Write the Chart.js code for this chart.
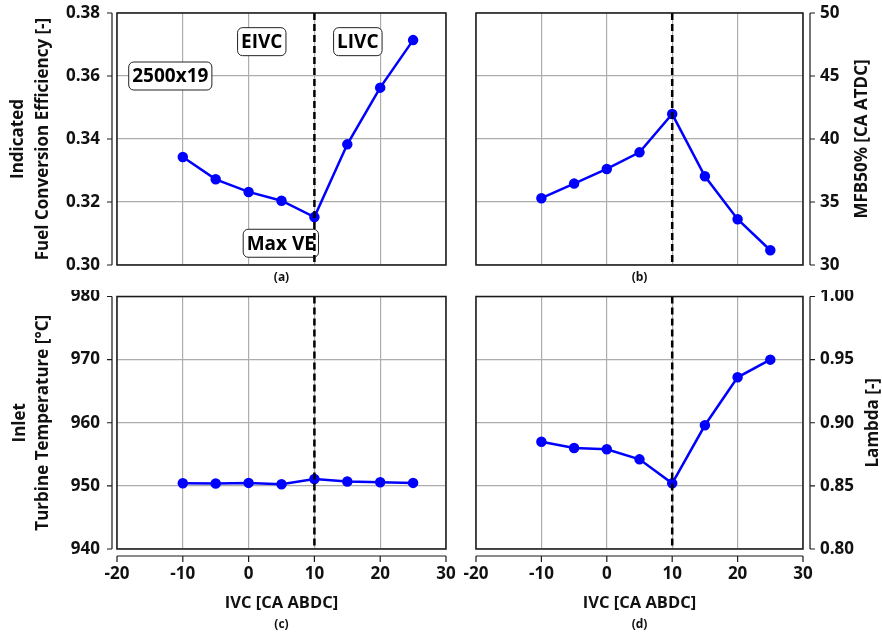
<!DOCTYPE html>
<html>
<head>
<meta charset="utf-8">
<script src="https://cdn.jsdelivr.net/npm/chart.js@4.4.1/dist/chart.umd.min.js"></script>
<style>
  body { margin: 0; background: #fff; }
  #fig { position: relative; width: 882px; height: 634px; }
  canvas { position: absolute; }
</style>
</head>
<body>
<div id="fig">
  <canvas id="pa" width="461" height="290" style="left:0;top:0"></canvas>
  <canvas id="pb" width="421" height="290" style="left:461px;top:0"></canvas>
  <canvas id="pc" width="461" height="344" style="left:0;top:290px"></canvas>
  <canvas id="pd" width="421" height="344" style="left:461px;top:290px"></canvas>
</div>
<script>
// IVC sweep at 2500 rpm x 19 bar
const ivc = [-10, -5, 0, 5, 10, 15, 20, 25];
const efficiency = [0.3343, 0.3272, 0.3232, 0.3204, 0.3152, 0.3383, 0.3563, 0.3714];
const mfb50 = [35.30, 36.46, 37.62, 38.94, 41.98, 37.04, 33.63, 31.17];
const turbineTemp = [950.42, 950.37, 950.47, 950.26, 951.10, 950.69, 950.58, 950.47];
const lambda = [0.885, 0.880, 0.879, 0.871, 0.852, 0.898, 0.936, 0.950];
const maxVeIvc = 10;

// text boxes on panel (a)
const noteText = ['EIVC', 'LIVC', '2500x19', 'Max VE'];
const noteIvc = [2.0, 16.6, -11.9, 4.9];
const noteEff = [0.3709, 0.3709, 0.3600, 0.3069];

const FONT = '"Open Sans", "DejaVu Sans", sans-serif';
const INK = '#111';

function roundBox(ctx, x, y, w, h, r) {
  ctx.beginPath();
  ctx.moveTo(x + r, y);
  ctx.arcTo(x + w, y, x + w, y + h, r);
  ctx.arcTo(x + w, y + h, x, y + h, r);
  ctx.arcTo(x, y + h, x, y, r);
  ctx.arcTo(x, y, x + w, y, r);
  ctx.closePath();
}

// frame, detached axes, dashed Max VE line, titles and notes
const figureParts = {
  id: 'figureParts',
  afterDatasetsDraw(chart, args, o) {
    const ctx = chart.ctx;
    const a = chart.chartArea;
    const xs = chart.scales.x, ys = chart.scales.y;
    ctx.save();

    // notes
    if (o.notes) {
      ctx.font = 'bold 19px ' + FONT;
      ctx.textAlign = 'center';
      ctx.textBaseline = 'middle';
      o.notes.text.forEach((t, i) => {
        const cx = xs.getPixelForValue(o.notes.x[i]);
        const cy = ys.getPixelForValue(o.notes.y[i]);
        const w = ctx.measureText(t).width + 7;
        const h = 28;
        roundBox(ctx, cx - w / 2, cy - h / 2, w, h, 5);
        ctx.fillStyle = '#fff';
        ctx.fill();
        ctx.lineWidth = 1;
        ctx.strokeStyle = '#222';
        ctx.stroke();
        ctx.fillStyle = '#000';
        ctx.fillText(t, cx, cy + 1);
      });
    }

    // Max VE marker
    const xv = xs.getPixelForValue(maxVeIvc);
    ctx.setLineDash([7, 4]);
    ctx.lineWidth = 2.5;
    ctx.strokeStyle = '#000';
    ctx.beginPath();
    ctx.moveTo(xv, a.top);
    ctx.lineTo(xv, a.bottom);
    ctx.stroke();
    ctx.setLineDash([]);

    // plot frame
    ctx.lineWidth = 1.5;
    ctx.strokeStyle = '#1a1a1a';
    ctx.strokeRect(a.left, a.top, a.right - a.left, a.bottom - a.top);

    // y axis line, set off from the frame
    ctx.lineWidth = 1.2;
    ctx.beginPath();
    if (o.ySide === 'left') {
      const ax = a.left - 5;
      ctx.moveTo(ax, a.top); ctx.lineTo(ax, a.bottom);
      ys.ticks.forEach(t => {
        const py = ys.getPixelForValue(t.value);
        ctx.moveTo(ax, py); ctx.lineTo(ax - 5, py);
      });
    } else {
      const ax = a.right + 7;
      ctx.moveTo(ax, a.top); ctx.lineTo(ax, a.bottom);
      ys.ticks.forEach(t => {
        const py = ys.getPixelForValue(t.value);
        ctx.moveTo(ax, py); ctx.lineTo(ax + 5, py);
      });
    }
    ctx.stroke();

    // x axis line on the lower panels
    if (o.xAxis) {
      const ay = a.bottom + 7;
      ctx.beginPath();
      ctx.moveTo(a.left, ay); ctx.lineTo(a.right, ay);
      xs.ticks.forEach(t => {
        const px = xs.getPixelForValue(t.value);
        ctx.moveTo(px, ay); ctx.lineTo(px, ay + 6);
      });
      ctx.stroke();
      ctx.font = 'bold 16.5px ' + FONT;
      ctx.fillStyle = INK;
      ctx.textAlign = 'center';
      ctx.textBaseline = 'middle';
      ctx.fillText(o.xAxis, (a.left + a.right) / 2, a.bottom + 54);
    }

    // y titles, read bottom to top
    const cy = (a.top + a.bottom) / 2;
    ctx.font = 'bold 17px ' + FONT;
    ctx.fillStyle = INK;
    ctx.textAlign = 'center';
    ctx.textBaseline = 'middle';
    o.yTitle.forEach((line, i) => {
      ctx.save();
      ctx.translate(o.yTitleX[i], cy);
      ctx.rotate(-Math.PI / 2);
      ctx.fillText(line, 0, 0);
      ctx.restore();
    });

    // panel letter
    ctx.font = 'bold 12px ' + FONT;
    ctx.fillText(o.letter, (a.left + a.right) / 2, a.bottom + o.letterGap);

    ctx.restore();
  }
};

function fixBox(size) {
  return function (scale) {
    if (scale.isHorizontal()) scale.height = size; else scale.width = size;
    scale.paddingLeft = scale.paddingRight = scale.paddingTop = scale.paddingBottom = 0;
  };
}

function panel(id, values, yMin, yMax, yStep, digits, cfg) {
  const lower = !!cfg.xAxis;
  const left = cfg.ySide === 'left';
  return new Chart(document.getElementById(id), {
    type: 'line',
    data: {
      datasets: [{
        data: ivc.map((x, i) => ({ x: x, y: values[i] })),
        borderColor: '#0000ff',
        backgroundColor: '#0000ff',
        borderWidth: 2.5,
        pointRadius: 4,
        pointHoverRadius: 4,
        tension: 0
      }]
    },
    options: {
      responsive: false,
      animation: false,
      events: [],
      layout: { padding: cfg.padding },
      plugins: {
        legend: { display: false },
        tooltip: { enabled: false },
        figureParts: cfg
      },
      scales: {
        x: {
          type: 'linear',
          min: -20, max: 30,
          afterFit: fixBox(lower ? 85 : 25),
          border: { display: false },
          grid: { color: '#adadad', lineWidth: 1.2, drawTicks: false },
          ticks: {
            display: lower,
            stepSize: 10,
            padding: 15,
            color: INK,
            font: { family: FONT, size: 17, weight: 'bold' }
          }
        },
        y: {
          position: cfg.ySide,
          min: yMin, max: yMax,
          afterFit: fixBox(left ? 117 : 79),
          border: { display: false },
          grid: { color: '#adadad', lineWidth: 1.2, drawTicks: false },
          ticks: {
            stepSize: yStep,
            padding: 17,
            color: INK,
            font: { family: FONT, size: 17, weight: 'bold' },
            callback: v => v.toFixed(digits)
          }
        }
      }
    },
    plugins: [figureParts]
  });
}

panel('pa', efficiency, 0.30, 0.38, 0.02, 2, {
  ySide: 'left',
  padding: { top: 13, right: 15, left: 0, bottom: 0 },
  yTitle: ['Indicated', 'Fuel Conversion Efficiency [-]'],
  yTitleX: [18, 43],
  letter: '(a)', letterGap: 13,
  notes: { text: noteText, x: noteIvc, y: noteEff }
});

panel('pb', mfb50, 30, 50, 5, 0, {
  ySide: 'right',
  padding: { top: 13, right: 0, left: 15, bottom: 0 },
  yTitle: ['MFB50% [CA ATDC]'],
  yTitleX: [401],
  letter: '(b)', letterGap: 13
});

panel('pc', turbineTemp, 940, 980, 10, 0, {
  ySide: 'left',
  padding: { top: 6, right: 15, left: 0, bottom: 0 },
  yTitle: ['Inlet', 'Turbine Temperature [°C]'],
  yTitleX: [20, 43],
  xAxis: 'IVC [CA ABDC]',
  letter: '(c)', letterGap: 76
});

panel('pd', lambda, 0.80, 1.00, 0.05, 2, {
  ySide: 'right',
  padding: { top: 6, right: 0, left: 15, bottom: 0 },
  yTitle: ['Lambda [-]'],
  yTitleX: [412],
  xAxis: 'IVC [CA ABDC]',
  letter: '(d)', letterGap: 76
});
</script>
</body>
</html>
